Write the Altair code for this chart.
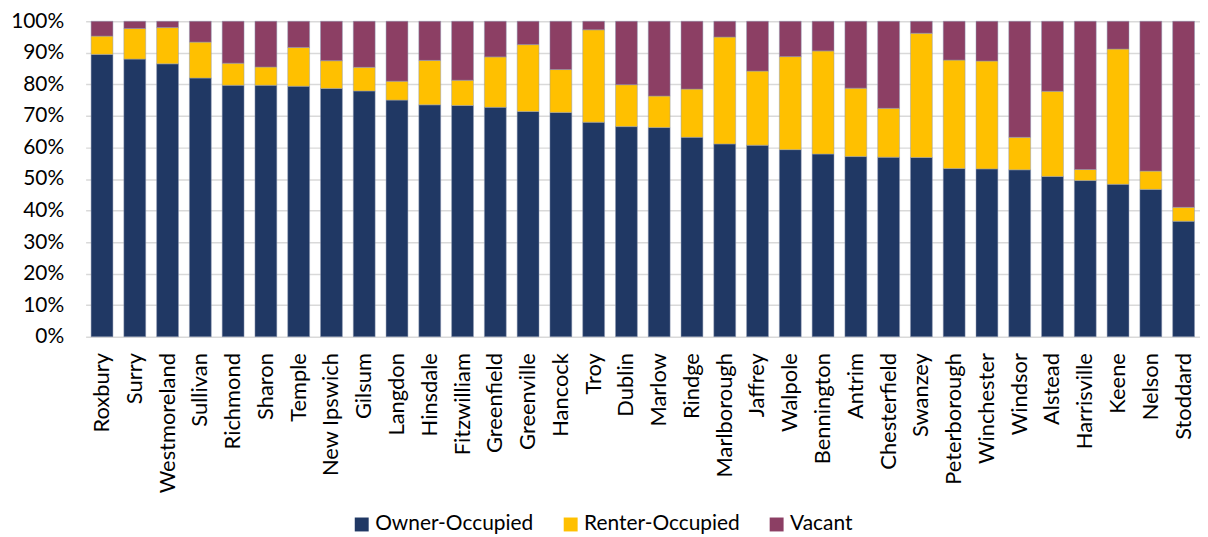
import altair as alt
import pandas as pd

towns = ["Roxbury", "Surry", "Westmoreland", "Sullivan", "Richmond", "Sharon", "Temple",
         "New Ipswich", "Gilsum", "Langdon", "Hinsdale", "Fitzwilliam", "Greenfield",
         "Greenville", "Hancock", "Troy", "Dublin", "Marlow", "Rindge", "Marlborough",
         "Jaffrey", "Walpole", "Bennington", "Antrim", "Chesterfield", "Swanzey",
         "Peterborough", "Winchester", "Windsor", "Alstead", "Harrisville", "Keene",
         "Nelson", "Stoddard"]

owner = [89.5, 88.0, 86.5, 82.0, 79.7, 79.7, 79.4, 78.7, 77.9, 75.0, 73.5, 73.3, 72.7,
         71.4, 71.1, 68.0, 66.6, 66.3, 63.2, 61.1, 60.7, 59.3, 57.9, 57.1, 56.9, 56.8,
         53.3, 53.2, 52.9, 50.8, 49.5, 48.3, 46.7, 36.6]

renter = [5.8, 9.7, 11.5, 11.4, 7.0, 5.8, 12.3, 8.8, 7.5, 6.0, 14.1, 8.0, 16.0,
          21.2, 13.6, 29.3, 13.3, 10.0, 15.3, 33.9, 23.5, 29.5, 32.7, 21.7, 15.5, 39.4,
          34.4, 34.2, 10.3, 27.0, 3.5, 42.9, 5.8, 4.4]

vacant = [4.7, 2.3, 2.0, 6.6, 13.3, 14.5, 8.3, 12.5, 14.6, 19.0, 12.4, 18.7, 11.3,
          7.4, 15.3, 2.7, 20.1, 23.7, 21.5, 5.0, 15.8, 11.2, 9.4, 21.2, 27.6, 3.8,
          12.3, 12.6, 36.8, 22.2, 47.0, 8.8, 47.5, 59.0]

series = ["Owner-Occupied", "Renter-Occupied", "Vacant"]
colors = ["#203864", "#FFC000", "#8C3F64"]

rows = []
for i, t in enumerate(towns):
    for k, (name, vals) in enumerate(zip(series, [owner, renter, vacant])):
        rows.append({"town": t, "series": name, "order": k, "value": vals[i] / 100.0})
df = pd.DataFrame(rows)

FONT = "Lato"

chart = alt.Chart(df).mark_bar(stroke="#8f9ab3", strokeWidth=0.6, strokeOpacity=0.8).encode(
    x=alt.X("town:N", sort=towns, title=None,
            scale=alt.Scale(paddingInner=0.333, paddingOuter=0.167),
            axis=alt.Axis(labelAngle=270, labelAlign="right", labelBaseline="middle",
                          labelPadding=16, ticks=False, domain=False, labelFontSize=22,
                          labelColor="#000000", labelFont=FONT)),
    y=alt.Y("value:Q", stack="zero", title=None,
            scale=alt.Scale(domain=[0, 1], nice=False),
            axis=alt.Axis(format=".0%", values=[i / 10 for i in range(11)], ticks=False,
                          domain=False, labelPadding=22, labelFontSize=21,
                          labelColor="#000000", labelFont=FONT,
                          gridColor="#d9d9d9", gridWidth=1.5)),
    color=alt.Color("series:N", sort=series,
                    scale=alt.Scale(domain=series, range=colors),
                    legend=alt.Legend(title=None, orient="none", direction="horizontal",
                                      legendX=267, legendY=495,
                                      symbolType="square", symbolSize=196,
                                      symbolStrokeWidth=0, labelFontSize=21,
                                      labelFont=FONT, labelColor="#000000",
                                      columnPadding=26, labelOffset=3)),
    order=alt.Order("order:Q", sort="ascending"),
).properties(
    width=1120, height=317,
    autosize=alt.AutoSizeParams(type="none"),
    padding={"left": 78, "top": 12, "right": 0, "bottom": 200},
).configure_view(stroke=None)

chart.save("out.html", embed_options={"renderer": "svg", "actions": False})
